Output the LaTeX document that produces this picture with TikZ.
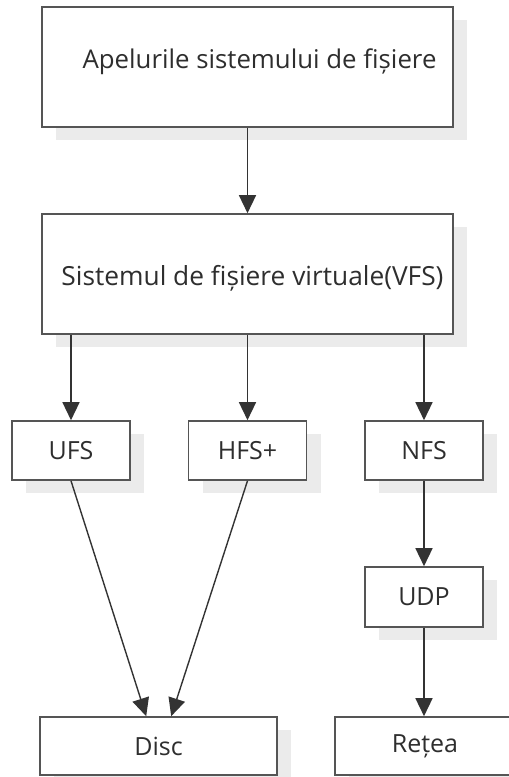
\documentclass[tikz,border=0pt]{standalone}
\usepackage{fontspec}
\setmainfont{Open Sans}
\usetikzlibrary{arrows.meta,calc,shadows}
\definecolor{txt}{HTML}{2E2E2E}
\definecolor{ln}{HTML}{333333}
\definecolor{bd}{HTML}{555555}
\definecolor{shd}{HTML}{EBEBEB}
\begin{document}
\begin{tikzpicture}[x=1pt,y=-1pt,
  box/.style={draw=bd,line width=1.6pt,fill=white,text=txt,inner sep=0pt,
    font=\fontsize{25}{28}\selectfont,
    general shadow={shadow xshift=14pt,shadow yshift=-13pt,fill=shd,draw=none}},
  conn/.style={draw=ln,line width=1.4pt,-{Triangle[length=18pt,width=17pt]}}]
\useasboundingbox (0,0) rectangle (509,777);
\clip (0,0) rectangle (509,777);
\node[box,minimum width=411pt,minimum height=120pt] (top) at (247.5,67) {};
\node[text=txt,font=\fontsize{25.8}{28}\selectfont,inner sep=0pt] (toptext) at (259.5,62) {Apelurile sistemului de fișiere};
\node[box,minimum width=411pt,minimum height=120pt] (vfs) at (247.5,274) {};
\node[text=txt,font=\fontsize{26.3}{28}\selectfont,inner sep=0pt] (vfstext) at (252.5,278) {Sistemul de fișiere virtuale(VFS)};
\node[box,minimum width=118pt,minimum height=59pt] (ufs) at (71,450.5) {UFS};
\node[box,minimum width=118pt,minimum height=59pt] (hfs) at (247.5,450.5) {HFS+};
\node[box,minimum width=118pt,minimum height=59pt] (nfs) at (424,450.5) {NFS};
\node[box,minimum width=118pt,minimum height=60pt] (udp) at (424,597) {UDP};
\node[box,minimum width=237pt,minimum height=58pt] (disc) at (158.5,746) {Disc};
\node[box,minimum width=180pt,minimum height=58pt] (retea) at (425,746) {Rețea};
\draw[conn] (top.south) -- (vfs.north);
\draw[conn] (ufs.north |- vfs.south) -- (ufs.north);
\draw[conn] (hfs.north |- vfs.south) -- (hfs.north);
\draw[conn] (nfs.north |- vfs.south) -- (nfs.north);
\coordinate (d1) at ($(disc.north west)+(107,0)$);
\coordinate (d2) at ($(disc.north west)+(132,0)$);
\draw[conn] (ufs.south) -- (d1);
\draw[conn] (hfs.south) -- (d2);
\draw[conn] (nfs.south) -- (udp.north);
\draw[conn] (udp.south) -- (udp.south |- retea.north);
\end{tikzpicture}
\end{document}
